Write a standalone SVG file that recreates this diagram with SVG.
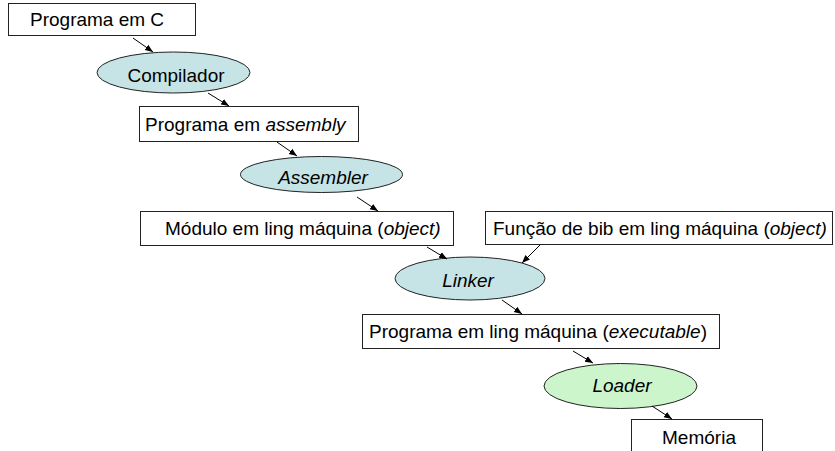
<svg xmlns="http://www.w3.org/2000/svg" width="835" height="451" viewBox="0 0 835 451">
<style>
.box{fill:#fff;stroke:#222;stroke-width:1}
.ell{fill:#c6e4e6;stroke:#222;stroke-width:1}
.ellg{fill:#ccf5cc;stroke:#222;stroke-width:1}
text{font-family:"Liberation Sans",Arial,sans-serif;font-size:19px;fill:#000}
.c{text-anchor:middle}
.i{font-style:italic}
.con line{stroke:#000;stroke-width:1;marker-end:url(#ah)}
</style>
<defs>
<marker id="ah" viewBox="0 0 10 10" refX="10" refY="5" markerWidth="8" markerHeight="8" markerUnits="userSpaceOnUse" orient="auto">
<path d="M0,1 L10,5 L0,9 Z" fill="#000"/>
</marker>
</defs>
<rect width="835" height="451" fill="#fff"/>
<g id="n-c"><rect class="box" x="8.5" y="3.5" width="187" height="32"/><text x="30" y="26">Programa em C</text></g>
<g id="n-compilador"><ellipse class="ell" cx="173.5" cy="72.5" rx="76.5" ry="20.5"/><text class="c" x="176" y="82">Compilador</text></g>
<g id="n-assembly"><rect class="box" x="139.5" y="106.5" width="219" height="35"/><text x="145" y="131">Programa em <tspan class="i">assembly</tspan></text></g>
<g id="n-assembler"><ellipse class="ell" cx="321.5" cy="174.5" rx="81" ry="18"/><text class="c i" x="323" y="184">Assembler</text></g>
<g id="n-object"><rect class="box" x="140.5" y="211.5" width="313" height="34"/><text x="165" y="235">Módulo em ling máquina (<tspan class="i">object)</tspan></text></g>
<g id="n-bib"><rect class="box" x="485.5" y="211.5" width="347" height="33"/><text x="493" y="235">Função de bib em ling máquina (<tspan class="i">object)</tspan></text></g>
<g id="n-linker"><ellipse class="ell" cx="470" cy="278.5" rx="75" ry="21.5"/><text class="c i" x="468" y="287">Linker</text></g>
<g id="n-exec"><rect class="box" x="362.5" y="314.5" width="357" height="34"/><text x="369" y="338">Programa em ling máquina (<tspan class="i">executable</tspan>)</text></g>
<g id="n-loader"><ellipse class="ellg" cx="620.5" cy="386" rx="76.5" ry="22.5"/><text class="c i" x="622" y="392">Loader</text></g>
<g id="n-mem"><rect class="box" x="631.5" y="419.5" width="131" height="40"/><text class="c" x="699" y="444">Memória</text></g>
<g id="connectors" class="con">
<line x1="133" y1="38" x2="153" y2="52"/>
<line x1="208" y1="93" x2="229" y2="106"/>
<line x1="277" y1="142" x2="297" y2="156"/>
<line x1="357" y1="197" x2="378" y2="211"/>
<line x1="427" y1="247" x2="447" y2="259"/>
<line x1="540" y1="245" x2="522" y2="263"/>
<line x1="502" y1="300" x2="522" y2="314"/>
<line x1="573" y1="351" x2="593" y2="363"/>
<line x1="652" y1="406" x2="672" y2="419"/>
</g>
</svg>
